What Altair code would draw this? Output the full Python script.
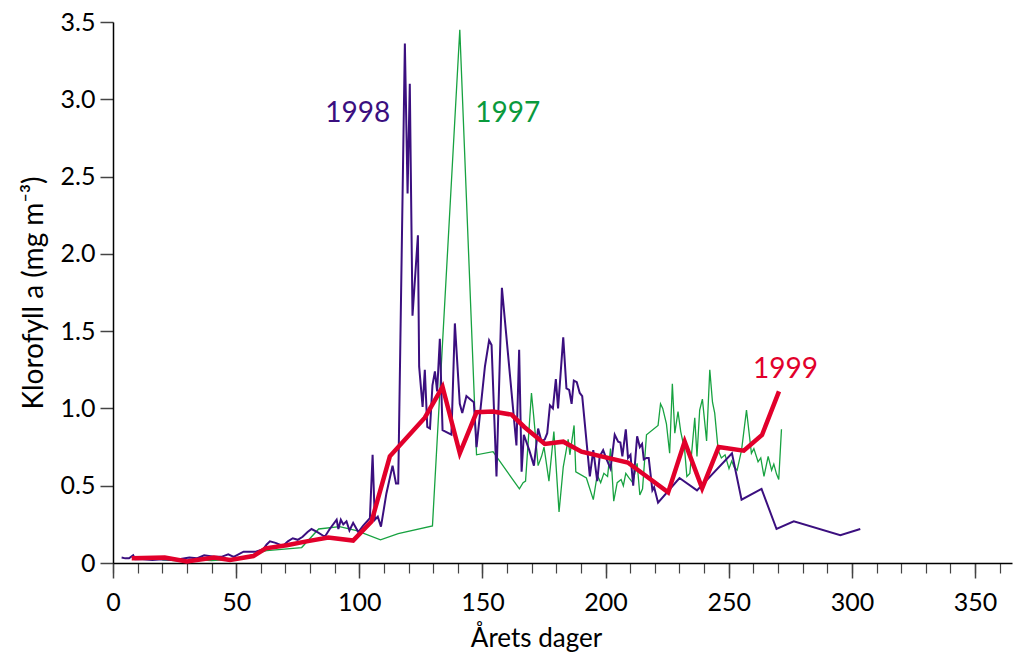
import altair as alt
import pandas as pd

# 1998 (purple)
d98_day = [3.5, 5, 6.5, 8.2, 9, 12, 16, 20, 25, 31, 34, 37, 41, 44, 46.8, 49, 53, 58, 61, 62.4,
           63.7, 66, 69, 71, 73, 75, 77, 79, 80.6, 83, 86, 88, 90.8, 91.5, 92.5, 93.5, 94.8, 96, 97.5, 99.6,
           101.5, 104.3, 105.4, 106.3, 107.5, 108.8, 111, 113.5, 114.9, 115.8, 118.5, 119.6, 120.5, 121.6, 123.8, 124.3, 125.7, 126.6, 127.6, 128.7,
           129.7, 130.7, 131.6, 132.7, 133.8, 137.4, 138.8, 140.8, 141.8, 143.5, 145, 146.5, 147.6, 151, 152.7, 153.7, 155.7, 157.9, 163.8, 164.9,
           165.9, 166.8, 169, 170.9, 172.6, 174, 175.3, 176.3, 177.4, 178.6, 179.8, 180.7, 182.8, 184.1, 185.2, 186.2, 187.1, 188.3, 189.5, 190.5,
           193.6, 195, 196.6, 197.6, 199, 200.4, 202, 203.7, 205.1, 206, 206.8, 208.2, 209.1, 210.1, 211.2, 212.8, 213.9, 214.8, 215.5, 216.6,
           217.5, 219, 219.7, 221.3, 230, 237.1, 251.3, 255.2, 263.3, 269.4, 276.4, 295.3, 303.4]
d98_val = [0.035, 0.03, 0.03, 0.05, 0.025, 0.025, 0.02, 0.025, 0.02, 0.035, 0.03, 0.05, 0.04, 0.04, 0.056, 0.04, 0.073, 0.073, 0.09, 0.12,
           0.14, 0.13, 0.11, 0.14, 0.16, 0.15, 0.17, 0.2, 0.22, 0.2, 0.17, 0.22, 0.28, 0.22, 0.28, 0.25, 0.27, 0.21, 0.26, 0.2,
           0.24, 0.29, 0.70, 0.28, 0.30, 0.235, 0.45, 0.63, 0.515, 0.515, 3.36, 2.39, 3.10, 1.60, 2.12, 1.27, 1.01, 1.25, 0.88, 0.87,
           1.15, 1.24, 1.11, 1.45, 0.86, 0.83, 1.55, 1.03, 0.97, 1.08, 1.06, 1.04, 0.75, 1.27, 1.44, 1.41, 0.56, 1.78, 0.76, 1.38,
           0.59, 0.83, 0.73, 0.63, 0.87, 0.785, 0.80, 0.84, 1.02, 1.00, 1.19, 1.00, 1.46, 1.13, 1.12, 1.03, 1.18, 1.17, 1.10, 1.08,
           0.56, 0.73, 0.53, 0.69, 0.73, 0.67, 0.61, 0.83, 0.785, 0.78, 0.69, 0.865, 0.68, 0.70, 0.50, 0.82, 0.75, 0.77, 0.67, 0.68,
           0.68, 0.47, 0.49, 0.39, 0.55, 0.47, 0.71, 0.41, 0.48, 0.22, 0.27, 0.18, 0.22]

# 1997 (green)
d97_day = [20, 25, 30, 35, 40, 45, 50, 55.6, 62.4, 76.6, 83.5, 92, 98.9, 108.6, 115.8, 129.7, 140.8, 147.6, 154.3, 165,
           166.5, 167.5, 169.9, 170.8, 172.6, 174, 175, 177, 179, 181.1, 182.8, 184.8, 185.5, 187.2, 187.9, 192.2, 195, 196.6, 198, 199.3,
           200.8, 202, 203.3, 204.7, 206.3, 207.2, 208.2, 209.5, 211, 212.8, 213.9, 215, 216.6, 221.3, 222.3, 223.2, 224.7, 226, 227.1, 228.1,
           229.4, 230.5, 232.1, 233, 234.2, 236.2, 237.1, 238.2, 239.3, 241, 242.3, 243.4, 244.3, 245.7, 247, 248.5, 250.1, 251.2, 252.2, 253.4,
           255.2, 257.2, 259.2, 260.2, 261.9, 263, 264.3, 266, 267.4, 268.3, 269.4, 270.3, 271.4]
d97_val = [0.02, 0.015, 0.01, 0.02, 0.015, 0.02, 0.03, 0.05, 0.08, 0.10, 0.22, 0.235, 0.21, 0.15, 0.19, 0.24, 3.45, 0.70, 0.72, 0.48,
           0.52, 0.53, 1.10, 0.95, 0.63, 0.69, 0.75, 0.53, 0.85, 0.33, 0.62, 0.80, 0.70, 0.89, 0.59, 0.55, 0.41, 0.57, 0.52, 0.58,
           0.56, 0.74, 0.40, 0.52, 0.54, 0.50, 0.58, 0.55, 0.52, 0.645, 0.44, 0.48, 0.83, 0.89, 1.03, 1.00, 0.90, 0.71, 1.16, 0.84,
           0.98, 0.85, 0.73, 0.56, 0.58, 0.94, 0.69, 0.99, 1.06, 0.79, 1.25, 1.04, 0.97, 0.73, 0.68, 0.70, 0.61, 0.66, 0.62, 0.60,
           0.73, 0.99, 0.71, 0.74, 0.655, 0.68, 0.56, 0.69, 0.60, 0.64, 0.575, 0.54, 0.865]

# 1999 (red)
d99_day = [7.6, 21, 30, 41, 47.5, 57, 62, 70.5, 78.6, 87.4, 97.5, 105, 112.4, 126.6, 133.8, 140.8, 147.6, 154.3, 161.8, 167,
           175.3, 182.8, 190.2, 209, 225.4, 232.1, 239.2, 245.9, 256.1, 263.5, 270.4]
d99_val = [0.03, 0.035, 0.01, 0.035, 0.02, 0.045, 0.095, 0.115, 0.14, 0.165, 0.145, 0.27, 0.69, 0.94, 1.14, 0.71, 0.975, 0.98, 0.96, 0.88,
           0.77, 0.785, 0.72, 0.65, 0.457, 0.785, 0.483, 0.75, 0.727, 0.828, 1.11]

label_text = ["1998", "1997", "1999"]
label_day = [99.4, 160.3, 273]
label_val = [2.85, 2.85, 1.20]
label_color = ["#3b0f7f", "#0a9a3c", "#e2002b"]

x_major = [0, 50, 100, 150, 200, 250, 300, 350]
x_minor = list(range(0, 361, 10))
y_ticks = [0, 0.5, 1.0, 1.5, 2.0, 2.5, 3.0, 3.5]

FONT = "Lato"

df98 = pd.DataFrame({"day": d98_day, "val": d98_val})
df97 = pd.DataFrame({"day": d97_day, "val": d97_val})
df99 = pd.DataFrame({"day": d99_day, "val": d99_val})
dfl = pd.DataFrame({"day": label_day, "val": label_val, "text": label_text, "color": label_color})

xscale = alt.Scale(domain=[0, 365], nice=False, zero=False)
yscale = alt.Scale(domain=[0, 3.5], nice=False)

x_axis_main = alt.Axis(values=x_major, title="Årets dager", labelFont=FONT, titleFont=FONT,
                       labelFontSize=25, titleFontSize=26, titleFontWeight="normal", labelColor="black",
                       titleColor="black", tickSize=15, tickColor="#444", tickWidth=1.5,
                       domainColor="black", domainWidth=1.5, labelPadding=12, titlePadding=10,
                       titleX=423, titleAnchor="start", titleAlign="center",
                       grid=False, orient="bottom", labelFlush=False)
x_axis_minor = alt.Axis(values=x_minor, labels=False, title=None, tickSize=10, tickColor="#444",
                        tickWidth=1.2, domain=False, grid=False, orient="bottom")
y_axis = alt.Axis(values=y_ticks, title="Klorofyll a (mg m⁻³)", labelFont=FONT, titleFont=FONT,
                  labelFontSize=25, titleFontSize=28, titleFontWeight="normal", labelColor="black",
                  titleColor="black", tickSize=13, tickColor="#444", tickWidth=1.5,
                  domainColor="black", domainWidth=1.5, labelPadding=5, titlePadding=12,
                  grid=False, labelExpr="datum.value == 0 ? '0' : format(datum.value, '.1f')")

green = alt.Chart(df97).mark_line(color="#17a240", strokeWidth=1.3).encode(
    x=alt.X("day:Q", scale=xscale, axis=x_axis_minor),
    y=alt.Y("val:Q", scale=yscale, axis=y_axis),
)
purple = alt.Chart(df98).mark_line(color="#3b0f7f", strokeWidth=2).encode(
    x=alt.X("day:Q", scale=xscale, axis=x_axis_main),
    y=alt.Y("val:Q", scale=yscale, axis=y_axis),
)
red = alt.Chart(df99).mark_line(color="#e2002b", strokeWidth=4.5, strokeJoin="miter").encode(
    x=alt.X("day:Q", scale=xscale, axis=None),
    y=alt.Y("val:Q", scale=yscale, axis=y_axis),
)
labels = alt.Chart(dfl).mark_text(font=FONT, fontSize=28, align="center", baseline="alphabetic").encode(
    x=alt.X("day:Q", scale=xscale, axis=None),
    y=alt.Y("val:Q", scale=yscale, axis=y_axis),
    text="text:N",
    color=alt.Color("color:N", scale=None),
)

chart = alt.layer(green, purple, red, labels).resolve_axis(x="independent").properties(
    width=899, height=541,
    autosize=alt.AutoSizeParams(type="none"),
    padding={"left": 113, "top": 22, "right": 2, "bottom": 92},
    background="white",
).configure_view(stroke=None)

chart.save("out.html", embed_options={"renderer": "svg", "actions": False})
